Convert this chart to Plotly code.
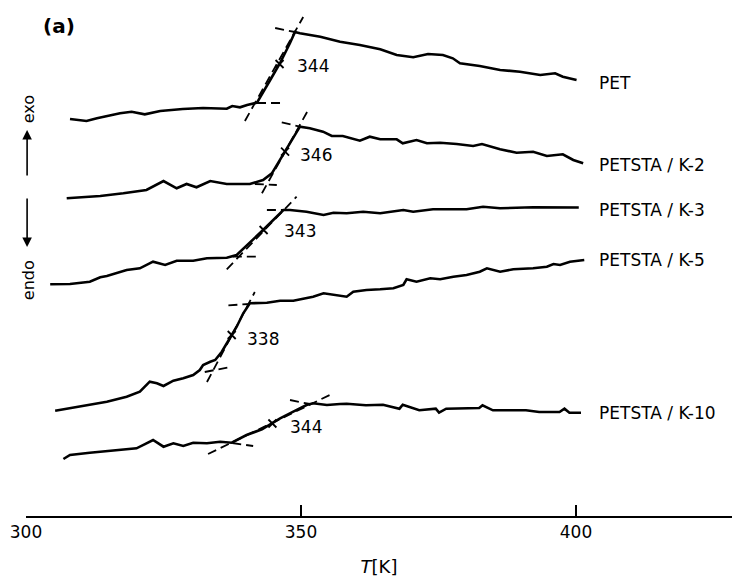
import plotly.graph_objects as go

# ---------------- data (T in K, signal in arbitrary units) ----------------
samples = ["PET", "PETSTA / K-2", "PETSTA / K-3", "PETSTA / K-5", "PETSTA / K-10"]
tg_labels = ["344", "346", "343", "338", "344"]

T_pet = [308.0, 311.0, 312.9, 315.6, 317.1, 319.2, 321.6, 324.4, 328.5, 332.2, 336.5, 337.5, 338.9, 340.2, 342.0,
         344.4, 346.2, 348.0, 348.9, 349.8, 353.5, 357.1, 360.7, 364.4, 367.4, 370.4, 373.1, 375.8, 377.6, 378.9,
         382.5, 386.2, 389.8, 393.5, 396.2, 397.6, 400.1]
S_pet = [397, 395, 397.7, 401, 402.7, 404.3, 401.7, 405, 407, 408, 407.3, 410, 408.7, 411, 413.3,
         436, 453, 473, 484, 482.7, 479.3, 474.3, 471, 466.7, 461, 458.7, 462, 461, 457.7, 452.7,
         450, 446, 444.3, 441, 442.7, 439.3, 436]

T_k2 = [307.4, 313.5, 317.7, 321.9, 325.0, 327.4, 329.2, 331.0, 333.5, 336.5, 340.7, 343.1, 344.7, 346.2, 347.1,
        348.6, 349.8, 351.6, 354.0, 355.6, 357.6, 360.7, 362.5, 364.4, 367.4, 368.5, 371.0, 372.9, 375.3, 378.3,
        381.3, 382.9, 386.2, 389.2, 392.2, 394.7, 397.6, 399.5, 401.3]
S_k2 = [317.7, 320, 322.7, 326, 335, 327.7, 332, 328.7, 335, 332, 332, 336, 342.7, 356, 364.3,
        377.7, 389.3, 387.7, 384.3, 380, 380, 375.3, 379.3, 376.7, 376.7, 372.7, 376, 372.7, 373.3, 372,
        370, 372, 366.7, 363.3, 364.3, 360, 361.7, 356, 352.7]

T_k3 = [304.4, 308.0, 311.6, 313.5, 314.7, 316.5, 318.3, 320.7, 323.1, 325.3, 327.4, 330.4, 332.9, 336.5, 338.3,
        343.1, 346.8, 348.0, 351.0, 354.1, 355.9, 358.3, 361.3, 364.4, 366.2, 368.6, 370.4, 374.0, 380.1, 383.1,
        386.2, 392.2, 400.5]
S_k3 = [231.7, 232, 234.3, 238.7, 240, 242.7, 246, 247.7, 254.3, 251, 255.3, 255.3, 257.7, 258.3, 261,
        286, 306, 306, 304.3, 301, 303.3, 302.7, 304.3, 302.7, 304.3, 306, 304.3, 306.7, 306.7, 309.3,
        307.7, 308.7, 308.5]

T_k5 = [305.3, 309.8, 314.7, 318.3, 320.7, 322.5, 323.8, 325.0, 326.8, 328.6, 330.4, 331.6, 332.2, 333.5, 334.4,
        335.6, 336.5, 337.4, 338.3, 339.5, 340.7, 343.8, 346.2, 348.6, 351.0, 352.2, 354.1, 355.9, 358.3, 359.5,
        361.9, 364.4, 366.8, 368.6, 369.2, 371.0, 373.5, 375.3, 377.7, 380.1, 382.5, 383.8, 386.2, 388.6, 392.2,
        394.7, 395.9, 397.1, 398.9, 401.5]
S_k5 = [105.3, 109.3, 114.3, 119.3, 124.3, 134.3, 132.7, 130, 135.3, 137.7, 141, 146, 151, 154.3, 156,
        164.3, 172.7, 181, 189.3, 202.7, 212.7, 213.3, 215.3, 215.3, 217.7, 219.3, 222.7, 221, 219.3, 224.3,
        226, 226.7, 227.7, 231, 236.7, 234.3, 237.7, 236.7, 239.3, 241, 244.3, 247.7, 244.3, 246.7, 247.7,
        249.3, 252, 251, 254.3, 256]

T_k10 = [306.8, 308.0, 311.6, 315.9, 320.1, 321.9, 323.1, 325.0, 326.8, 328.6, 330.4, 332.9, 335.3, 337.4, 340.1,
         342.9, 346.2, 348.6, 351.0, 352.2, 354.7, 357.1, 358.3, 361.8, 364.9, 367.9, 368.5, 371.5, 374.5, 375.1,
         376.4, 382.4, 383.0, 384.9, 388.5, 390.9, 393.3, 397.0, 397.9, 398.8, 400.9]
S_k10 = [57, 61, 63.3, 65.3, 67.7, 72.7, 76, 69.3, 72.7, 70, 73.3, 72.7, 74.3, 73.3, 81,
         86.7, 97.7, 104.3, 111, 112.7, 111, 112, 112.3, 110.7, 111.3, 107.3, 111.3, 105.7, 107.3, 103.3,
         107.3, 108, 110.7, 105.7, 105.7, 105.7, 104, 104, 107.3, 103.3, 103.3]

curves_T = [T_pet, T_k2, T_k3, T_k5, T_k10]
curves_S = [S_pet, S_k2, S_k3, S_k5, S_k10]

# glass-transition construction lines (pairs of end points) per sample
tangent_T = [[339.8, 350.4], [342.9, 351.3], [336.5, 349.2], [332.9, 341.6], [333.1, 355.6]]
tangent_S = [[395, 499], [322.7, 406], [246.7, 319.3], [134, 224], [62, 122]]
base_lo_T = [[342.0, 346.7], [341.6, 345.6], [337.6, 341.9], [332.5, 337.1], [337.5, 341.3]]
base_lo_S = [[413, 413], [332, 331], [259.3, 259.3], [144, 149], [73, 70]]
base_hi_T = [[345.3, 348.9], [346.5, 349.8], [343.8, 347.4], [336.8, 340.7], [348.0, 351.6]]
base_hi_S = [[488, 484], [393.7, 389.3], [306, 306], [210.7, 212], [116, 112]]

# midpoint markers and their value labels
mid_T = [346.1, 347.1, 343.2, 337.4, 344.8]
mid_S = [452, 364.3, 286, 181, 92.5]
midlab_T = [348.9, 349.5, 346.5, 339.8, 347.6]
midlab_S = [450, 361, 285, 177.5, 89]

# sample name labels at right
name_T = [403.8, 403.8, 403.8, 403.8, 403.8]
name_S = [433.5, 351, 306, 256, 103]

x_ticks = [300, 350, 400]

FONT = "DejaVu Sans"
fig = go.Figure()

for T, S in zip(curves_T, curves_S):
    fig.add_trace(go.Scatter(x=T, y=S, mode="lines", line=dict(color="black", width=2.6),
                             hoverinfo="skip", showlegend=False))

for group_T, group_S in [(tangent_T, tangent_S), (base_lo_T, base_lo_S), (base_hi_T, base_hi_S)]:
    for T, S in zip(group_T, group_S):
        fig.add_trace(go.Scatter(x=T, y=S, mode="lines",
                                 line=dict(color="black", width=1.8, dash="9px,5px"),
                                 hoverinfo="skip", showlegend=False))

fig.add_trace(go.Scatter(x=mid_T, y=mid_S, mode="markers",
                         marker=dict(symbol="x-thin", size=8, line=dict(color="black", width=1.8)),
                         showlegend=False, hoverinfo="skip"))

for t, s, lab in zip(midlab_T, midlab_S, tg_labels):
    fig.add_annotation(x=t, y=s, text=lab, showarrow=False, xanchor="left", yanchor="middle",
                       font=dict(family=FONT, size=17, color="black"))

for t, s, lab in zip(name_T, name_S, samples):
    fig.add_annotation(x=t, y=s, text=lab, showarrow=False, xanchor="left", yanchor="middle",
                       font=dict(family=FONT, size=17, color="black"))

# panel label and exo / endo indicators
fig.add_annotation(x=306.0, y=490, text="<b>(a)</b>", showarrow=False,
                   font=dict(family=FONT, size=20, color="black"))
fig.add_annotation(x=300.4, y=407, text="exo", textangle=-90, showarrow=False,
                   font=dict(family=FONT, size=16, color="black"))
fig.add_annotation(x=300.4, y=236, text="endo", textangle=-90, showarrow=False,
                   font=dict(family=FONT, size=16, color="black"))
fig.add_annotation(x=300.2, y=386, ax=300.2, ay=339, axref="x", ayref="y", text="",
                   showarrow=True, arrowhead=2, arrowsize=1.2, arrowwidth=1.6, arrowcolor="black")
fig.add_annotation(x=300.2, y=269, ax=300.2, ay=319, axref="x", ayref="y", text="",
                   showarrow=True, arrowhead=2, arrowsize=1.2, arrowwidth=1.6, arrowcolor="black")

fig.update_layout(
    width=732, height=584,
    margin=dict(l=26, r=0, t=0, b=68),
    paper_bgcolor="white", plot_bgcolor="white",
    showlegend=False,
    xaxis=dict(range=[300, 428.36], tickvals=x_ticks, ticks="inside", ticklen=11, tickwidth=1.5,
               tickcolor="black", showline=True, linecolor="black", linewidth=1.5,
               showgrid=False, zeroline=False, tickfont=dict(family=FONT, size=17, color="black"),
               title=dict(text="<i>T</i>[K]", font=dict(family=FONT, size=18, color="black"), standoff=19),
               automargin=False),
    yaxis=dict(range=[0, 516], visible=False),
)

# remove the browser's default page margin so the figure fills the window exactly
fig.write_html("out.html",
               config={"displayModeBar": False},
               post_script="document.body.style.margin='0';document.body.style.overflow='hidden';")
